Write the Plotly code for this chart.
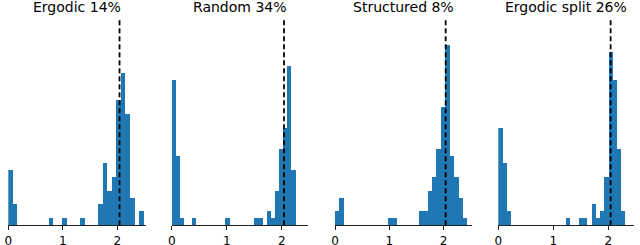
import numpy as np
import plotly.graph_objects as go

titles = ["Ergodic 14%", "Random 34%", "Structured 8%", "Ergodic split 26%"]

# histogram counts (30 bins each, starting at 0)
counts_ergodic = [8, 3, 0, 0, 0, 0, 0, 0, 0, 1, 0, 0, 1, 0, 0, 0, 1, 0, 0, 0,
                  3, 9, 5, 7, 18, 22, 16, 4, 0, 2]
counts_random = [21, 10, 1, 0, 0, 1, 0, 0, 0, 0, 0, 0, 0, 1, 0, 0, 0, 0, 0, 0,
                 1, 1, 0, 2, 1, 5, 11, 14, 23, 8]
counts_structured = [2, 4, 0, 0, 0, 0, 0, 0, 0, 0, 0, 0, 1, 1, 0, 0, 0, 0, 0, 2,
                     2, 5, 7, 11, 17, 26, 10, 7, 4, 1]
counts_split = [14, 9, 2, 0, 0, 0, 0, 0, 0, 0, 0, 0, 0, 0, 0, 0, 1, 0, 0, 1,
                1, 0, 3, 1, 2, 7, 25, 21, 11, 2]

# upper edge of the histogram range per panel (lower edge is 0)
bin_max = [2.48, 2.25, 2.44, 2.31]
ref_value = 2.04
tick_vals = [0, 1, 2]
x_max = [2.52, 2.47, 2.52, 2.47]
y_max = 29.7

all_counts = [counts_ergodic, counts_random, counts_structured, counts_split]

W, H = 640, 245
dom_px = [(8.3, 145.7), (171.7, 307.7), (335.0, 471.7), (498.3, 634.3)]
y_dom = [(245 - 225.3) / H, (245 - 19.3) / H]

fig = go.Figure()
layout = dict(
    width=W, height=H,
    margin=dict(l=0, r=0, t=0, b=0, pad=0),
    paper_bgcolor="white", plot_bgcolor="white",
    showlegend=False, bargap=0,
    font=dict(family="DejaVu Sans", size=12, color="black"),
)
shapes = []
annotations = []
for i, (cnts, hi) in enumerate(zip(all_counts, bin_max)):
    n = len(cnts)
    edges = np.linspace(0, hi, n + 1)
    centers = (edges[:-1] + edges[1:]) / 2
    width = edges[1] - edges[0]
    xa = "x" if i == 0 else f"x{i+1}"
    ya = "y" if i == 0 else f"y{i+1}"
    fig.add_trace(go.Bar(x=centers, y=cnts, width=width, xaxis=xa, yaxis=ya,
                         hoverinfo="skip",
                         marker=dict(color="#1f77b4", line=dict(width=0))))
    xkey = "xaxis" if i == 0 else f"xaxis{i+1}"
    ykey = "yaxis" if i == 0 else f"yaxis{i+1}"
    d0, d1 = dom_px[i]
    layout[xkey] = dict(domain=[d0 / W, d1 / W], anchor=ya, range=[0, x_max[i]],
                        automargin=False,
                        showline=True, linecolor="#222", linewidth=1,
                        ticks="outside", ticklen=4, tickwidth=1, tickcolor="#222",
                        tickvals=tick_vals, showgrid=False, zeroline=False,
                        tickfont=dict(size=12, color="black", family="DejaVu Sans"),
                        fixedrange=True)
    layout[ykey] = dict(domain=y_dom, anchor=xa, range=[0, y_max], visible=False,
                        automargin=False,
                        showgrid=False, zeroline=False, fixedrange=True)
    shapes.append(dict(type="line", xref=xa, yref=f"{ya} domain",
                       x0=ref_value, x1=ref_value, y0=0, y1=1,
                       line=dict(color="black", width=1.8, dash="5px,3px")))
    annotations.append(dict(text=titles[i], xref="paper", yref="paper",
                            x=(d0 + d1) / 2 / W, y=(H - 6.6) / H,
                            xanchor="center", yanchor="middle", showarrow=False,
                            font=dict(size=14, color="black", family="DejaVu Sans")))

layout["shapes"] = shapes
layout["annotations"] = annotations
fig.update_layout(**layout)
fig.write_html("out.html",
               config={"displayModeBar": False, "staticPlot": True},
               post_script="document.body.style.margin='0';"
                           "document.body.style.overflow='hidden';")
